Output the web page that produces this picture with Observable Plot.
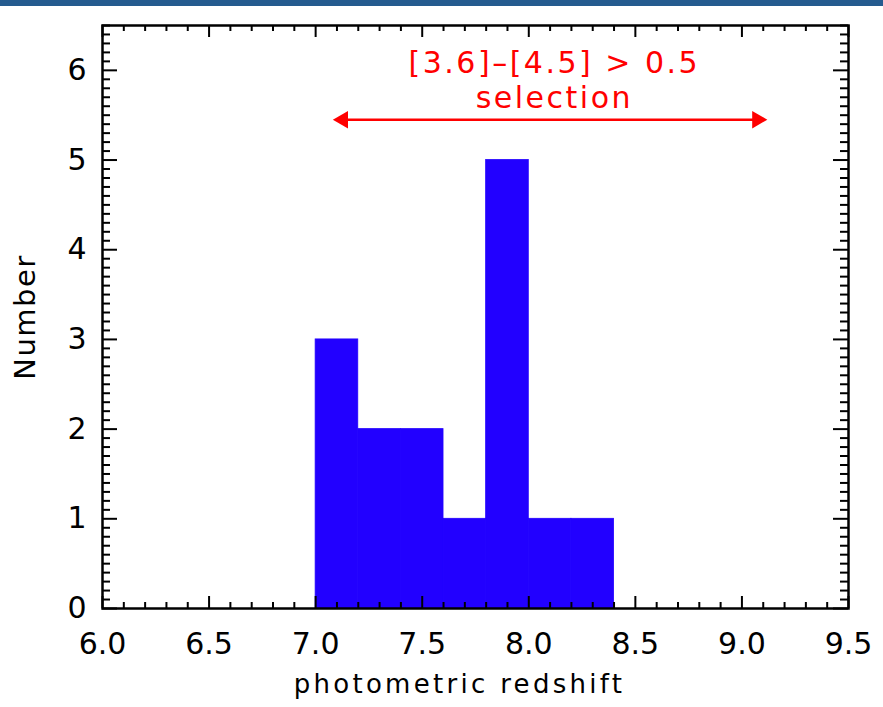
<!DOCTYPE html>
<html>
<head>
<meta charset="utf-8">
<script src="https://cdn.jsdelivr.net/npm/d3@7"></script>
<script src="https://cdn.jsdelivr.net/npm/@observablehq/plot@0.6"></script>
<style>
  html, body { margin: 0; padding: 0; background: #fff; }
  #band { height: 6px; background: #255B8F; }
  #chart svg { display: block; }
</style>
</head>
<body>
<div id="band"></div>
<div id="chart"></div>
<script>
// Histogram bins (photometric redshift) and counts
const binStart = [7.0, 7.2, 7.4, 7.6, 7.8, 8.0, 8.2];
const binEnd   = [7.2, 7.4, 7.6, 7.8, 8.0, 8.2, 8.4];
const counts   = [3, 2, 2, 1, 5, 1, 1];

// Axis ticks
const xMajor = [6.0, 6.5, 7.0, 7.5, 8.0, 8.5, 9.0, 9.5];
const yMajor = [0, 1, 2, 3, 4, 5, 6];

// Annotation
const arrowFrom = [7.1];
const arrowTo = [9.1];
const arrowY = [5.45];
const labelX = [8.12];
const labelLines = ["[3.6]\u2013[4.5] > 0.5", "selection"];
const labelY = [6.08, 5.69];

const bars = binStart.map((s, i) => ({x1: s, x2: binEnd[i], y: counts[i]}));
const xMinor = d3.range(60, 96, 1).map(v => v / 10).filter(v => !xMajor.some(m => Math.abs(m - v) < 1e-9));
const yMinor = d3.range(0, 66, 1).map(v => v / 10).filter(v => !yMajor.some(m => Math.abs(m - v) < 1e-9));

const W = 883, H = 701;
const mL = 102, mR = 35, mT = 19, mB = 99;
const pw = W - mL - mR, ph = H - mT - mB;
const font = "DejaVu Sans, sans-serif";

const xMaj = 12, xMin = 6, yMaj = 15, yMin = 8;
const tk = {stroke: "#000", strokeWidth: 2};

const chart = Plot.plot({
  width: W,
  height: H,
  marginLeft: mL,
  marginRight: mR,
  marginTop: mT,
  marginBottom: mB,
  style: {fontFamily: font, background: "#fff", color: "#000"},
  x: {domain: [6.0, 9.5]},
  y: {domain: [0, 6.5]},
  marks: [
    Plot.rectY(bars, {x1: "x1", x2: "x2", y: "y", fill: "#2200FF", stroke: "#2200FF", strokeWidth: 0.8}),
    // bottom & top x ticks
    Plot.tickX(xMajor, {x: d => d, insetTop: ph - xMaj, ...tk}),
    Plot.tickX(xMajor, {x: d => d, insetBottom: ph - xMaj, ...tk}),
    Plot.tickX(xMinor, {x: d => d, insetTop: ph - xMin, ...tk}),
    Plot.tickX(xMinor, {x: d => d, insetBottom: ph - xMin, ...tk}),
    // left & right y ticks
    Plot.tickY(yMajor, {y: d => d, insetRight: pw - yMaj, ...tk}),
    Plot.tickY(yMajor, {y: d => d, insetLeft: pw - yMaj, ...tk}),
    Plot.tickY(yMinor, {y: d => d, insetRight: pw - yMin, ...tk}),
    Plot.tickY(yMinor, {y: d => d, insetLeft: pw - yMin, ...tk}),
    Plot.frame({stroke: "#000", strokeWidth: 2.5}),
    Plot.axisX(xMajor, {
      tickSize: 0, tickPadding: 24, tickFormat: d3.format(".1f"),
      fontSize: 30, label: null
    }),
    Plot.axisY(yMajor, {
      tickSize: 0, tickPadding: 16, tickFormat: d3.format("d"),
      fontSize: 30, label: null
    }),
    Plot.text(["photometric redshift"], {
      frameAnchor: "bottom", dy: 84, dx: -16, fontSize: 26, fill: "#000",
      text: d => d
    }),
    Plot.text(["Number"], {
      frameAnchor: "left", textAnchor: "middle", dx: -77, rotate: -90, fontSize: 29, fill: "#000",
      text: d => d
    }),
    // double-headed arrow
    Plot.ruleY(arrowY, {y: d => d, x1: arrowFrom[0], x2: arrowTo[0], stroke: "#ff0000", strokeWidth: 2.5, insetLeft: 8, insetRight: 8}),
    Plot.dot(arrowY, {x: arrowFrom[0], y: d => d, symbol: "triangle", rotate: -90, r: 6.5, fill: "#ff0000", stroke: null, dx: 6}),
    Plot.dot(arrowY, {x: arrowTo[0], y: d => d, symbol: "triangle", rotate: 90, r: 6.5, fill: "#ff0000", stroke: null, dx: -6}),
    Plot.text(labelLines, {
      x: labelX[0], y: (d, i) => labelY[i], text: d => d,
      fill: "#ff0000", fontSize: 30
    })
  ]
});
// widen letter spacing of the titles to mimic the original's wide font
const textGroups = chart.querySelectorAll('g[aria-label="text"]');
if (textGroups[0]) textGroups[0].setAttribute("letter-spacing", "3.3");
if (textGroups[1]) textGroups[1].setAttribute("letter-spacing", "1.5");
if (textGroups[2]) textGroups[2].setAttribute("letter-spacing", "2.5");
document.getElementById("chart").appendChild(chart);
</script>
</body>
</html>
